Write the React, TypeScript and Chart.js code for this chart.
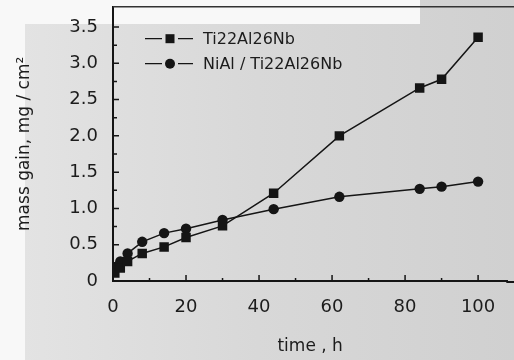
import { useEffect, useRef } from 'react';
import { Chart, registerables } from 'chart.js';

Chart.register(...registerables);

const timeH = [0.5, 2, 4, 8, 14, 20, 30, 44, 62, 84, 90, 100];
const tiAlNb = [0.11, 0.18, 0.27, 0.38, 0.47, 0.6, 0.76, 1.21, 2.0, 2.66, 2.78, 3.36];
const niAlTiAlNb = [0.19, 0.27, 0.38, 0.54, 0.66, 0.72, 0.84, 0.99, 1.16, 1.27, 1.3, 1.37];
const seriesNames = ['Ti22Al26Nb', 'NiAl / Ti22Al26Nb'];
const xMajorTicks = [0, 20, 40, 60, 80, 100];
const xMinorTicks = [10, 30, 50, 70, 90];
const yMajorTicks = [0, 0.5, 1.0, 1.5, 2.0, 2.5, 3.0, 3.5];
const yMinorTicks = [0.25, 0.75, 1.25, 1.75, 2.25, 2.75, 3.25];
const xTitle = 'time , h';
const yTitle = 'mass gain, mg / cm²';

const FONT = '"DejaVu Sans", "Liberation Sans", Arial, sans-serif';
const INK = '#151515';
const TEXT = '#1c1c1c';

const bgPlugin = {
  id: 'scanBg',
  beforeDraw(chart: any) {
    const { ctx, width, height } = chart;
    ctx.save();
    const g = ctx.createLinearGradient(0, 0, width, 0);
    g.addColorStop(0, '#e4e4e4');
    g.addColorStop(0.5, '#d8d8d8');
    g.addColorStop(1, '#d0d0d0');
    ctx.fillStyle = g;
    ctx.fillRect(0, 0, width, height);
    ctx.fillStyle = '#f8f8f8';
    ctx.fillRect(0, 0, 420, 24);
    ctx.fillRect(0, 0, 25, height);
    ctx.restore();
  },
};

const ticksPlugin = {
  id: 'inwardTicks',
  afterDatasetsDraw(chart: any) {
    const { ctx, chartArea, width } = chart;
    const xs = chart.scales.x;
    const ys = chart.scales.y;
    ctx.save();
    ctx.strokeStyle = INK;
    ctx.lineWidth = 1.5;
    ctx.beginPath();
    xMajorTicks.forEach((v) => {
      const p = xs.getPixelForValue(v);
      ctx.moveTo(p, chartArea.bottom);
      ctx.lineTo(p, chartArea.bottom - 6);
    });
    xMinorTicks.forEach((v) => {
      const p = xs.getPixelForValue(v);
      ctx.moveTo(p, chartArea.bottom);
      ctx.lineTo(p, chartArea.bottom - 3);
    });
    yMajorTicks.forEach((v) => {
      const p = ys.getPixelForValue(v);
      ctx.moveTo(chartArea.left, p);
      ctx.lineTo(chartArea.left + 6, p);
    });
    yMinorTicks.forEach((v) => {
      const p = ys.getPixelForValue(v);
      ctx.moveTo(chartArea.left, p);
      ctx.lineTo(chartArea.left + 4, p);
    });
    ctx.stroke();
    // axis line continues to the edge of the scanned page
    const axisY = Math.round(xs.top - 1) + 2;
    ctx.lineWidth = 2;
    ctx.beginPath();
    ctx.moveTo(chartArea.right - 1, axisY);
    ctx.lineTo(width, axisY);
    ctx.stroke();
    ctx.strokeStyle = '#333';
    ctx.lineWidth = 1.5;
    ctx.beginPath();
    ctx.moveTo(chartArea.left, chartArea.top);
    ctx.lineTo(width, chartArea.top);
    ctx.stroke();
    ctx.restore();
  },
};

const legendPlugin = {
  id: 'insideLegend',
  afterDatasetsDraw(chart: any) {
    const { ctx, chartArea } = chart;
    ctx.save();
    chart.data.datasets.forEach((ds: any, i: number) => {
      const y = chartArea.top + 32 + i * 25;
      const x0 = chartArea.left + 32;
      const x1 = chartArea.left + 80;
      const xm = chartArea.left + 57;
      ctx.strokeStyle = INK;
      ctx.lineWidth = 1.3;
      ctx.beginPath();
      ctx.moveTo(x0, y);
      ctx.lineTo(xm - 8, y);
      ctx.moveTo(xm + 8, y);
      ctx.lineTo(x1, y);
      ctx.stroke();
      ctx.fillStyle = INK;
      if (ds.pointStyle === 'rect') {
        ctx.fillRect(xm - 4.5, y - 4.5, 9, 9);
      } else {
        ctx.beginPath();
        ctx.arc(xm, y, 5, 0, Math.PI * 2);
        ctx.fill();
      }
      ctx.fillStyle = TEXT;
      ctx.font = `16px ${FONT}`;
      ctx.textBaseline = 'middle';
      ctx.textAlign = 'left';
      ctx.fillText(ds.label, chartArea.left + 90, y + 1);
    });
    ctx.restore();
  },
};

export default function App() {
  const ref = useRef<HTMLCanvasElement | null>(null);

  useEffect(() => {
    if (!ref.current) return;
    const chart = new Chart(ref.current, {
      type: 'line',
      data: {
        datasets: [
          {
            label: seriesNames[0],
            data: timeH.map((t, i) => ({ x: t, y: tiAlNb[i] })),
            borderColor: INK,
            backgroundColor: INK,
            borderWidth: 1.5,
            pointStyle: 'rect',
            pointRadius: 6.7,
            pointBorderWidth: 0,
            tension: 0,
          },
          {
            label: seriesNames[1],
            data: timeH.map((t, i) => ({ x: t, y: niAlTiAlNb[i] })),
            borderColor: INK,
            backgroundColor: INK,
            borderWidth: 1.5,
            pointStyle: 'circle',
            pointRadius: 5.2,
            pointBorderWidth: 0,
            tension: 0,
          },
        ],
      },
      options: {
        animation: false,
        responsive: false,
        devicePixelRatio: 1,
        layout: { padding: { left: 0, right: 1, top: 5, bottom: 0 } },
        plugins: { legend: { display: false }, tooltip: { enabled: false } },
        scales: {
          x: {
            type: 'linear',
            min: 0,
            max: 108,
            grid: { display: false, drawTicks: false },
            border: { display: true, width: 2, color: INK },
            afterBuildTicks: (s: any) => {
              s.ticks = xMajorTicks.map((v) => ({ value: v }));
            },
            afterFit: (s: any) => {
              s.height = 79;
              s.paddingLeft = 0;
              s.paddingRight = 0;
            },
            ticks: {
              color: TEXT,
              font: { family: FONT, size: 18 },
              padding: 16,
              maxRotation: 0,
              callback: (v: any) => String(v),
            },
            title: {
              display: true,
              text: xTitle,
              color: TEXT,
              font: { family: FONT, size: 17 },
              padding: { top: 0, bottom: 3 },
            },
          },
          y: {
            type: 'linear',
            min: 0,
            max: 3.78,
            grid: { display: false, drawTicks: false },
            border: { display: true, width: 2, color: INK },
            afterBuildTicks: (s: any) => {
              s.ticks = yMajorTicks.map((v) => ({ value: v }));
            },
            afterFit: (s: any) => {
              s.width = 113;
              s.paddingTop = 0;
              s.paddingBottom = 0;
            },
            ticks: {
              color: TEXT,
              font: { family: FONT, size: 18 },
              padding: 15,
              callback: (v: any) => (Number(v) === 0 ? '0' : Number(v).toFixed(1)),
            },
            title: {
              display: true,
              text: yTitle,
              color: TEXT,
              font: { family: FONT, size: 17 },
              padding: { top: 14, bottom: 0 },
            },
          },
        },
      },
      plugins: [bgPlugin, ticksPlugin, legendPlugin],
    });
    return () => chart.destroy();
  }, []);

  return (
    <div style={{ position: 'absolute', left: 0, top: 0, width: 514, height: 360 }}>
      <canvas ref={ref} width={514} height={360} style={{ width: 514, height: 360 }} />
    </div>
  );
}
